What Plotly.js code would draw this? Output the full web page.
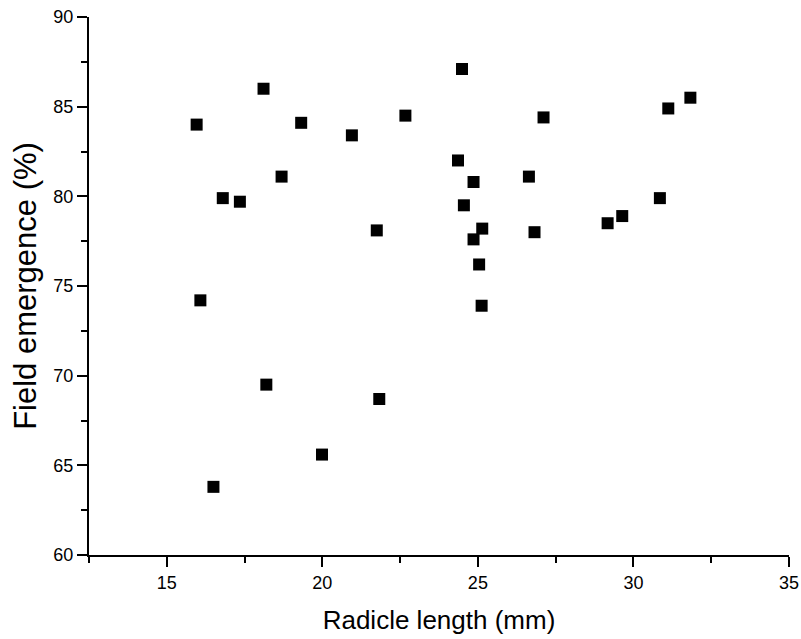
<!DOCTYPE html>
<html>
<head>
<meta charset="utf-8">
<script src="https://cdn.plot.ly/plotly-3.0.1.min.js"></script>
<style>html,body{margin:0;padding:0;background:#fff;}#chart{width:801px;height:639px;}</style>
</head>
<body>
<div id="chart"></div>
<script>
const radicleLength = [24.49, 18.11, 15.96, 19.32, 20.95, 22.67, 24.36, 18.69, 16.80, 17.35,
  21.75, 16.08, 27.11, 31.12, 31.83, 24.86, 26.64, 24.55, 30.85, 29.64,
  29.17, 25.14, 26.82, 24.86, 25.04, 25.12, 18.20, 21.83, 19.99, 16.50];
const fieldEmergence = [87.1, 86.0, 84.0, 84.1, 83.4, 84.5, 82.0, 81.1, 79.9, 79.7,
  78.1, 74.2, 84.4, 84.9, 85.5, 80.8, 81.1, 79.5, 79.9, 78.9,
  78.5, 78.2, 78.0, 77.6, 76.2, 73.9, 69.5, 68.7, 65.6, 63.8];
const xTitle = 'Radicle length (mm)';
const yTitle = 'Field emergence (%)';

const FONT = '"Liberation Sans", Arial, sans-serif';
const axisCommon = {
  showline: true, linecolor: '#000', linewidth: 2,
  ticks: 'outside', ticklen: 10, tickwidth: 2, tickcolor: '#000',
  showgrid: false, zeroline: false, mirror: false,
  tickfont: {family: FONT, size: 18, color: '#000'}
};

Plotly.newPlot('chart', [{
  x: radicleLength, y: fieldEmergence, type: 'scatter', mode: 'markers',
  marker: {symbol: 'square', size: 12, color: '#000', line: {width: 0}}
}], {
  width: 801, height: 639,
  margin: {l: 89, r: 12, t: 17, b: 84},
  paper_bgcolor: '#fff', plot_bgcolor: '#fff',
  showlegend: false,
  xaxis: Object.assign({}, axisCommon, {
    range: [12.5, 35], tick0: 0, dtick: 5,
    minor: {dtick: 2.5, tick0: 0, ticklen: 6, tickwidth: 2, tickcolor: '#000', ticks: 'outside', showgrid: false},
    title: {text: xTitle, font: {family: FONT, size: 26, color: '#000'}, standoff: 19}
  }),
  yaxis: Object.assign({}, axisCommon, {
    range: [60, 90], tick0: 0, dtick: 5,
    minor: {dtick: 2.5, tick0: 0, ticklen: 6, tickwidth: 2, tickcolor: '#000', ticks: 'outside', showgrid: false},
    title: {text: yTitle, font: {family: FONT, size: 31, color: '#000'}, standoff: 8}
  })
}, {displayModeBar: false, staticPlot: true});
</script>
</body>
</html>
